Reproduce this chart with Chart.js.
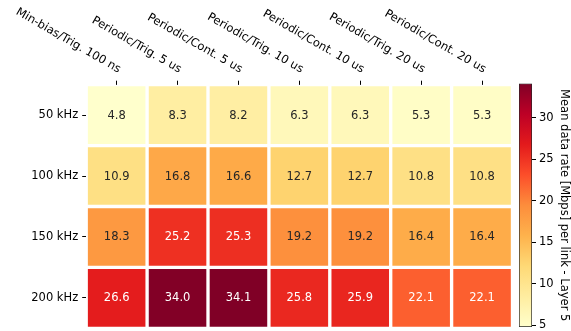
<!DOCTYPE html>
<html>
<head>
<meta charset="utf-8">
<script src="https://cdn.jsdelivr.net/npm/chart.js@4"></script>
<style>
  html, body { margin: 0; padding: 0; background: #fff; }
  #wrap { position: relative; width: 571px; height: 331px; }
  #heat { position: absolute; left: 0; top: 0; }
  #cbar { position: absolute; left: 519px; top: 0; }
</style>
</head>
<body>
<div id="wrap">
  <canvas id="heat" width="571" height="331"></canvas>
  <canvas id="cbar" width="52" height="331"></canvas>
</div>
<script>
// readout modes (columns) and trigger rates (rows)
const modos = ['Min-bias/Trig. 100 ns', 'Periodic/Trig. 5 us', 'Periodic/Cont. 5 us',
  'Periodic/Trig. 10 us', 'Periodic/Cont. 10 us', 'Periodic/Trig. 20 us', 'Periodic/Cont. 20 us'];
const taxas = ['50 kHz', '100 kHz', '150 kHz', '200 kHz'];

// mean data rate per link [Mbps], one list per trigger rate
const rate50k  = [4.8, 8.3, 8.2, 6.3, 6.3, 5.3, 5.3];
const rate100k = [10.9, 16.8, 16.6, 12.7, 12.7, 10.8, 10.8];
const rate150k = [18.3, 25.2, 25.3, 19.2, 19.2, 16.4, 16.4];
const rate200k = [26.6, 34.0, 34.1, 25.8, 25.9, 22.1, 22.1];
const linhas = [rate50k, rate100k, rate150k, rate200k];

const cbTicks = [5, 10, 15, 20, 25, 30];
const cbTitulo = 'Mean data rate [Mbps] per link - Layer 5';

const FONTE = '"DejaVu Sans", sans-serif';
const TAM = 11.5;

const todos = linhas.flat();
const vmin = Math.min(...todos);
const vmax = Math.max(...todos);

// YlOrRd
const ylorrd = [
  [255, 255, 204], [255, 237, 160], [254, 217, 118], [254, 178, 76], [253, 141, 60],
  [252, 78, 42], [227, 26, 28], [189, 0, 38], [128, 0, 38]
];

function corRGB(v) {
  let t = (v - vmin) / (vmax - vmin);
  t = Math.max(0, Math.min(1, t)) * (ylorrd.length - 1);
  const i = Math.min(Math.floor(t), ylorrd.length - 2);
  const f = t - i;
  const a = ylorrd[i], b = ylorrd[i + 1];
  return [0, 1, 2].map(k => a[k] + (b[k] - a[k]) * f);
}
function cor(v) {
  const c = corRGB(v);
  return 'rgb(' + c.map(Math.round).join(',') + ')';
}
function luminancia(c) {
  const l = c.map(x => {
    x = x / 255;
    return x <= 0.03928 ? x / 12.92 : Math.pow((x + 0.055) / 1.055, 2.4);
  });
  return 0.2126 * l[0] + 0.7152 * l[1] + 0.0722 * l[2];
}

// value written in the middle of each cell
const rotulosCelulas = {
  id: 'rotulosCelulas',
  afterDatasetsDraw(chart) {
    const ctx = chart.ctx;
    ctx.save();
    ctx.font = TAM + 'px ' + FONTE;
    ctx.textAlign = 'center';
    ctx.textBaseline = 'middle';
    chart.data.datasets.forEach((ds, r) => {
      const meta = chart.getDatasetMeta(r);
      meta.data.forEach((bar, c) => {
        const v = linhas[r][c];
        ctx.fillStyle = luminancia(corRGB(v)) > 0.408 ? '#262626' : '#ffffff';
        ctx.fillText(v.toFixed(1), bar.x, (bar.y + bar.base) / 2 + 0.5);
      });
    });
    ctx.restore();
  }
};

// slanted column labels above the top axis
const rotulosTopo = {
  id: 'rotulosTopo',
  afterDraw(chart) {
    const esc = chart.scales.x;
    const ctx = chart.ctx;
    ctx.save();
    ctx.font = TAM + 'px ' + FONTE;
    ctx.fillStyle = '#000';
    ctx.textAlign = 'right';
    ctx.textBaseline = 'alphabetic';
    modos.forEach((m, i) => {
      const x = esc.getPixelForTick(i);
      ctx.save();
      ctx.translate(x + 1.5, 73);
      ctx.rotate(Math.PI / 6);
      ctx.fillText(m, 0, 0);
      ctx.restore();
    });
    ctx.restore();
  }
};

function semFolga(s) {
  s.paddingTop = 0;
  s.paddingBottom = 0;
}

new Chart(document.getElementById('heat'), {
  type: 'bar',
  data: {
    labels: modos,
    datasets: linhas.map((vals, r) => ({
      label: taxas[r],
      data: vals.map(() => 1),
      backgroundColor: vals.map(cor),
      borderColor: '#ffffff',
      borderWidth: 2,
      borderSkipped: false,
      barPercentage: 1,
      categoryPercentage: 1
    }))
  },
  options: {
    responsive: false,
    animation: false,
    devicePixelRatio: 1,
    layout: { padding: { left: 0, right: 58.5, top: 0, bottom: 2.7 } },
    plugins: { legend: { display: false }, tooltip: { enabled: false } },
    scales: {
      x: {
        type: 'category',
        position: 'top',
        stacked: true,
        offset: true,
        border: { display: false },
        grid: { offset: false, drawOnChartArea: false, drawTicks: true, tickLength: 4, tickColor: '#000', tickWidth: 1 },
        ticks: { display: false },
        afterFit(s) { s.height = 84.7; }
      },
      y: {
        type: 'linear',
        stacked: true,
        min: 0,
        max: taxas.length,
        reverse: true,
        border: { display: false },
        grid: { drawOnChartArea: false, drawTicks: true, tickLength: 4, tickColor: '#000', tickWidth: 1 },
        afterBuildTicks(s) { s.ticks = taxas.map((t, i) => ({ value: i + 0.5 })); },
        ticks: {
          padding: 4,
          color: '#000',
          font: { family: FONTE, size: TAM },
          callback: (v, i) => taxas[i]
        },
        afterFit(s) { s.width = 86.2; semFolga(s); }
      }
    }
  },
  plugins: [rotulosCelulas, rotulosTopo]
});

// colour bar: a single floating bar from vmin to vmax filled with the colormap
new Chart(document.getElementById('cbar'), {
  type: 'bar',
  data: {
    labels: [''],
    datasets: [{
      data: [[vmin, vmax]],
      backgroundColor(c) {
        const area = c.chart.chartArea;
        if (!area) return cor(vmin);
        const g = c.chart.ctx.createLinearGradient(0, area.bottom, 0, area.top);
        ylorrd.forEach((rgb, i) => g.addColorStop(i / (ylorrd.length - 1), 'rgb(' + rgb.join(',') + ')'));
        return g;
      },
      borderColor: 'rgba(0,0,0,0.85)',
      borderWidth: 1,
      borderSkipped: false,
      barPercentage: 1,
      categoryPercentage: 1
    }]
  },
  options: {
    responsive: false,
    animation: false,
    devicePixelRatio: 1,
    layout: { padding: { left: 0, right: 0, top: 83.5, bottom: 4 } },
    plugins: { legend: { display: false }, tooltip: { enabled: false } },
    scales: {
      x: { display: false, offset: true },
      y: {
        position: 'right',
        min: vmin,
        max: vmax,
        border: { display: false },
        grid: { drawOnChartArea: false, drawTicks: true, tickLength: 4, tickColor: '#000', tickWidth: 1 },
        afterBuildTicks(s) { s.ticks = cbTicks.map(v => ({ value: v })); },
        ticks: { padding: 3, color: '#000', font: { family: FONTE, size: TAM } },
        title: { display: true, text: cbTitulo, color: '#000', padding: 0, font: { family: FONTE, size: TAM } },
        afterFit(s) { s.width = 39; semFolga(s); }
      }
    }
  }
});
</script>
</body>
</html>
